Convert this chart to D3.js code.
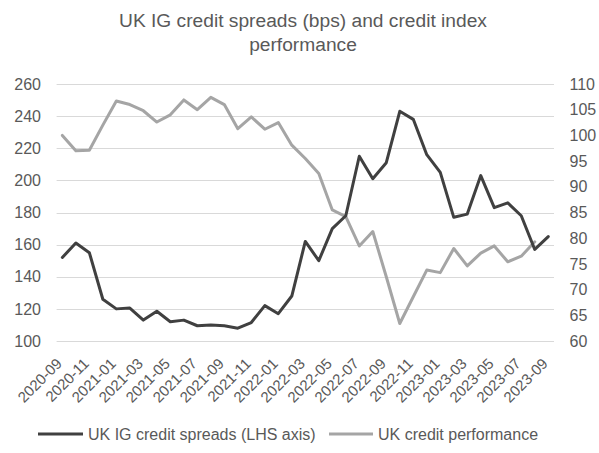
<!DOCTYPE html>
<html><head><meta charset="utf-8">
<script src="https://cdn.jsdelivr.net/npm/d3@7"></script>
<style>
html,body{margin:0;padding:0;background:#fff;}
svg{display:block;font-family:"Liberation Sans",Arial,sans-serif;}
</style></head>
<body><svg id="c" width="599" height="453"></svg>
<script>
const dates = ["2020-09","2020-10","2020-11","2020-12","2021-01","2021-02","2021-03","2021-04","2021-05","2021-06","2021-07","2021-08","2021-09","2021-10","2021-11","2021-12","2022-01","2022-02","2022-03","2022-04","2022-05","2022-06","2022-07","2022-08","2022-09","2022-10","2022-11","2022-12","2023-01","2023-02","2023-03","2023-04","2023-05","2023-06","2023-07","2023-08","2023-09"];
const spreads = [152,161,155,126,120,120.5,113,118.5,112,113,109.5,110,109.5,108,111.5,122,117,128,162,150,170,178,215,201,211,243,238,216,205,177,179,203,183,186,178,157,165];
const performance = [100,97,97.1,102,106.7,106,104.8,102.6,104,106.9,105,107.4,106,101.3,103.6,101.2,102.5,98.1,95.5,92.6,85.5,84.2,78.5,81.3,72.5,63.4,68.6,73.8,73.3,78,74.6,77.1,78.5,75.4,76.5,79.3];
const leftTicks = [100,120,140,160,180,200,220,240,260];
const rightTicks = [60,65,70,75,80,85,90,95,100,105,110];
const xLabels = dates.filter((d,i)=>i%2===0);
const titleLines = ["UK IG credit spreads (bps) and credit index","performance"];
const seriesNames = ["UK IG credit spreads (LHS axis)","UK credit performance"];
const colors = ["#404040","#a5a5a5"];
const textColor = "#595959";

const svg = d3.select("#c");
const x = d3.scaleBand().domain(dates).range([55.6,555]).padding(0);
const xc = d => x(d) + x.bandwidth()/2;
const yL = d3.scaleLinear().domain([100,260]).range([341,84]);
const yR = d3.scaleLinear().domain([60,110]).range([341,84]);

// title
svg.append("g").selectAll("text").data(titleLines).join("text")
  .attr("x",303).attr("y",(d,i)=>27+i*24)
  .attr("text-anchor","middle").attr("fill",textColor)
  .style("font-size","19.2px").text(d=>d);

// gridlines
svg.append("g").selectAll("line").data(leftTicks).join("line")
  .attr("x1",x.range()[0]+1).attr("x2",x.range()[1]-1)
  .attr("y1",d=>Math.round(yL(d))+0.5).attr("y2",d=>Math.round(yL(d))+0.5)
  .attr("stroke","#d9d9d9").attr("stroke-width",1);

// left axis labels
const axL = d3.axisLeft(yL).tickValues(leftTicks).tickSize(0).tickPadding(0);
const gL = svg.append("g").attr("transform","translate(41,0)").call(axL);
gL.select(".domain").remove();
gL.selectAll("text").attr("fill",textColor).style("font-size","16px").style("font-family","Liberation Sans, Arial, sans-serif");

// right axis labels
const axR = d3.axisRight(yR).tickValues(rightTicks).tickSize(0).tickPadding(0);
const gR = svg.append("g").attr("transform","translate(569.5,0)").call(axR);
gR.select(".domain").remove();
gR.selectAll("text").attr("fill",textColor).style("font-size","16px").style("font-family","Liberation Sans, Arial, sans-serif");

// x labels
svg.append("g").selectAll("text").data(xLabels).join("text")
  .attr("transform",d=>`translate(${xc(d)+0.5},364.5) rotate(-45)`)
  .attr("text-anchor","end")
  .attr("fill",textColor).style("font-size","15px").text(d=>d);

// lines
const lineL = d3.line().x((d,i)=>xc(dates[i])).y(d=>yL(d));
const lineR = d3.line().x((d,i)=>xc(dates[i])).y(d=>yR(d));
svg.append("path").datum(performance).attr("d",lineR)
  .attr("fill","none").attr("stroke",colors[1]).attr("stroke-width",3).attr("stroke-linejoin","round").attr("stroke-linecap","round");
svg.append("path").datum(spreads).attr("d",lineL)
  .attr("fill","none").attr("stroke",colors[0]).attr("stroke-width",3).attr("stroke-linejoin","round").attr("stroke-linecap","round");

// legend
const legX = [[38,83,88],[329,373,378]];
const leg = svg.append("g");
seriesNames.forEach((n,i)=>{
  leg.append("line").attr("x1",legX[i][0]).attr("x2",legX[i][1]).attr("y1",434).attr("y2",434)
    .attr("stroke",colors[i]).attr("stroke-width",3);
  leg.append("text").attr("x",legX[i][2]).attr("y",440).attr("fill",textColor)
    .style("font-size","16px").text(n);
});
</script></body></html>
